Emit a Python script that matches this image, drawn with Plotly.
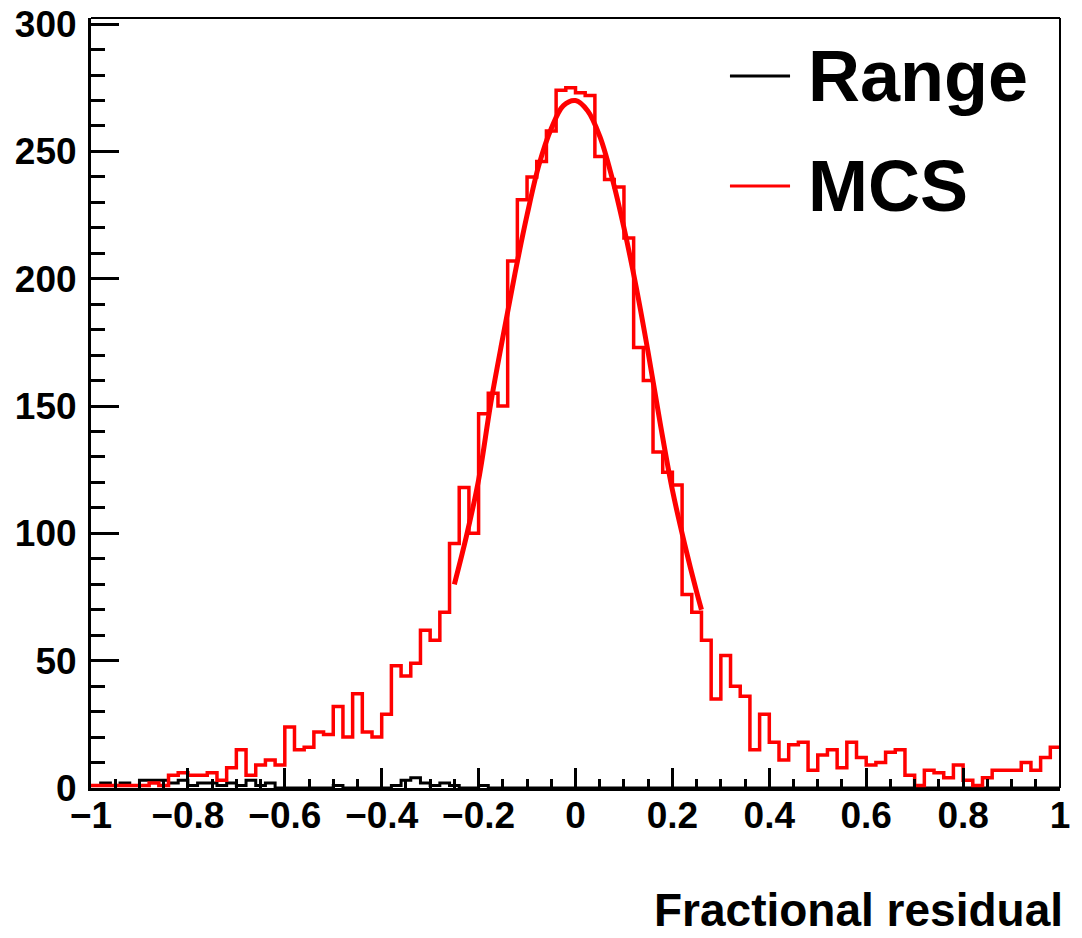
import numpy as np
import plotly.graph_objects as go

# ---- data ----
bin_lo, bin_hi, n_bins = -1.0, 1.0, 100

mcs_counts = [1, 1, 1, 1, 1, 1, 2, 1, 5, 6,
              5, 5, 6, 3, 8, 15, 5, 9, 11, 9,
              24, 15, 16, 22, 21, 32, 20, 37, 22, 20,
              29, 48, 44, 49, 62, 58, 69, 96, 118, 100,
              147, 155, 150, 207, 231, 240, 246, 258, 274, 275,
              273, 272, 248, 239, 236, 216, 173, 160, 132, 124,
              119, 76, 69, 58, 35, 52, 40, 36, 15, 29,
              18, 11, 17, 18, 7, 13, 15, 8, 18, 12,
              9, 10, 14, 15, 5, 1, 7, 6, 4, 9,
              3, 1, 4, 7, 7, 7, 10, 7, 12, 16]

range_counts = [1, 2, 1, 2, 1, 3, 3, 3, 2, 3,
                1, 2, 2, 1, 2, 1, 3, 1, 2, 0,
                0, 0, 0, 0, 0, 1, 0, 0, 0, 0,
                0, 1, 3, 4, 2, 1, 2, 1, 0, 0,
                1, 0, 0, 0, 0, 0, 0, 0, 0, 0,
                0, 0, 0, 0, 0, 0, 0, 0, 0, 0,
                0, 0, 0, 0, 0, 0, 0, 0, 0, 0,
                0, 0, 0, 0, 0, 0, 0, 0, 0, 0,
                0, 0, 0, 0, 0, 0, 0, 0, 0, 0,
                0, 0, 0, 0, 0, 0, 0, 0, 0, 0]

# fitted curve on MCS histogram
fit_x = [-0.25, -0.225, -0.2, -0.175, -0.15, -0.125, -0.1, -0.075, -0.05, -0.025,
         0.0, 0.025, 0.05, 0.075, 0.1, 0.125, 0.15, 0.175, 0.2, 0.225, 0.25, 0.26]
fit_y = [80, 99, 121, 151, 177, 202, 225, 245, 259, 268,
         270, 266, 256, 240, 220, 197, 171, 143, 117, 96, 77, 70]

legend_labels = ["Range", "MCS"]
x_title = "Fractional residual"

# ---- build ----
edges = np.linspace(bin_lo, bin_hi, n_bins + 1)


def step_xy(counts):
    xs = list(edges)
    ys = list(counts) + [counts[-1]]
    return xs, ys


FONT = "Liberation Sans"
RED = "#ff0000"

fig = go.Figure()
rx, ry = step_xy(range_counts)
fig.add_trace(go.Scatter(x=rx, y=ry, mode="lines", line=dict(color="black", width=3, shape="hv"),
                         name=legend_labels[0], showlegend=False))
mx, my = step_xy(mcs_counts)
fig.add_trace(go.Scatter(x=mx, y=my, mode="lines", line=dict(color=RED, width=3.5, shape="hv"),
                         name=legend_labels[1], showlegend=False))
fig.add_trace(go.Scatter(x=fit_x, y=fit_y, mode="lines", line=dict(color=RED, width=5, shape="spline"),
                         name="fit", showlegend=False))

axis_common = dict(showgrid=False, zeroline=False, showline=True, linecolor="black", linewidth=3,
                   mirror=False, ticks="inside", tickcolor="black", tickwidth=3, automargin=False,
                   ticklabeloverflow="allow",
                   tickfont=dict(family=FONT, size=37, color="black", weight="bold"))

fig.update_xaxes(range=[-1, 1], dtick=0.2, tick0=-1, ticklen=20, ticklabelstandoff=-7,
                 minor=dict(dtick=0.05, ticks="inside", ticklen=9, tickwidth=3, tickcolor="black"),
                 **axis_common)
fig.update_yaxes(range=[0, 302.4], dtick=50, tick0=0, ticklen=28, ticklabelstandoff=4,
                 minor=dict(dtick=10, ticks="inside", ticklen=14, tickwidth=3, tickcolor="black"),
                 **axis_common)

# top and right frame lines (thinner, no ticks)
fig.add_shape(type="line", xref="paper", yref="paper", x0=0, x1=1, y0=1, y1=1,
              line=dict(color="black", width=2))
fig.add_shape(type="line", xref="paper", yref="paper", x0=1, x1=1, y0=0, y1=1,
              line=dict(color="black", width=2))

# legend drawn by hand (ROOT style)
leg_y = [0.9247, 0.7818]
leg_col = ["black", RED]
for lab, yy, col in zip(legend_labels, leg_y, leg_col):
    fig.add_shape(type="line", xref="paper", yref="paper", x0=0.6594, x1=0.7214, y0=yy, y1=yy,
                  line=dict(color=col, width=3))
    fig.add_annotation(text=lab, xref="paper", yref="paper", x=0.7379, y=yy, xanchor="left",
                       yanchor="middle", showarrow=False,
                       font=dict(family=FONT, size=72, color="black", weight="bold"))

fig.add_annotation(text=x_title, xref="paper", yref="paper", x=1.005, y=-0.158, xanchor="right",
                   yanchor="middle", showarrow=False,
                   font=dict(family=FONT, size=46, color="black", weight="bold"))

# page body has an 8px default margin: size the figure so the plot frame lands where the reference has it
fig.update_layout(width=1074, height=930, margin=dict(l=83, r=22, t=10, b=150, autoexpand=False),
                  plot_bgcolor="white", paper_bgcolor="white")

fig.write_html("out.html")
